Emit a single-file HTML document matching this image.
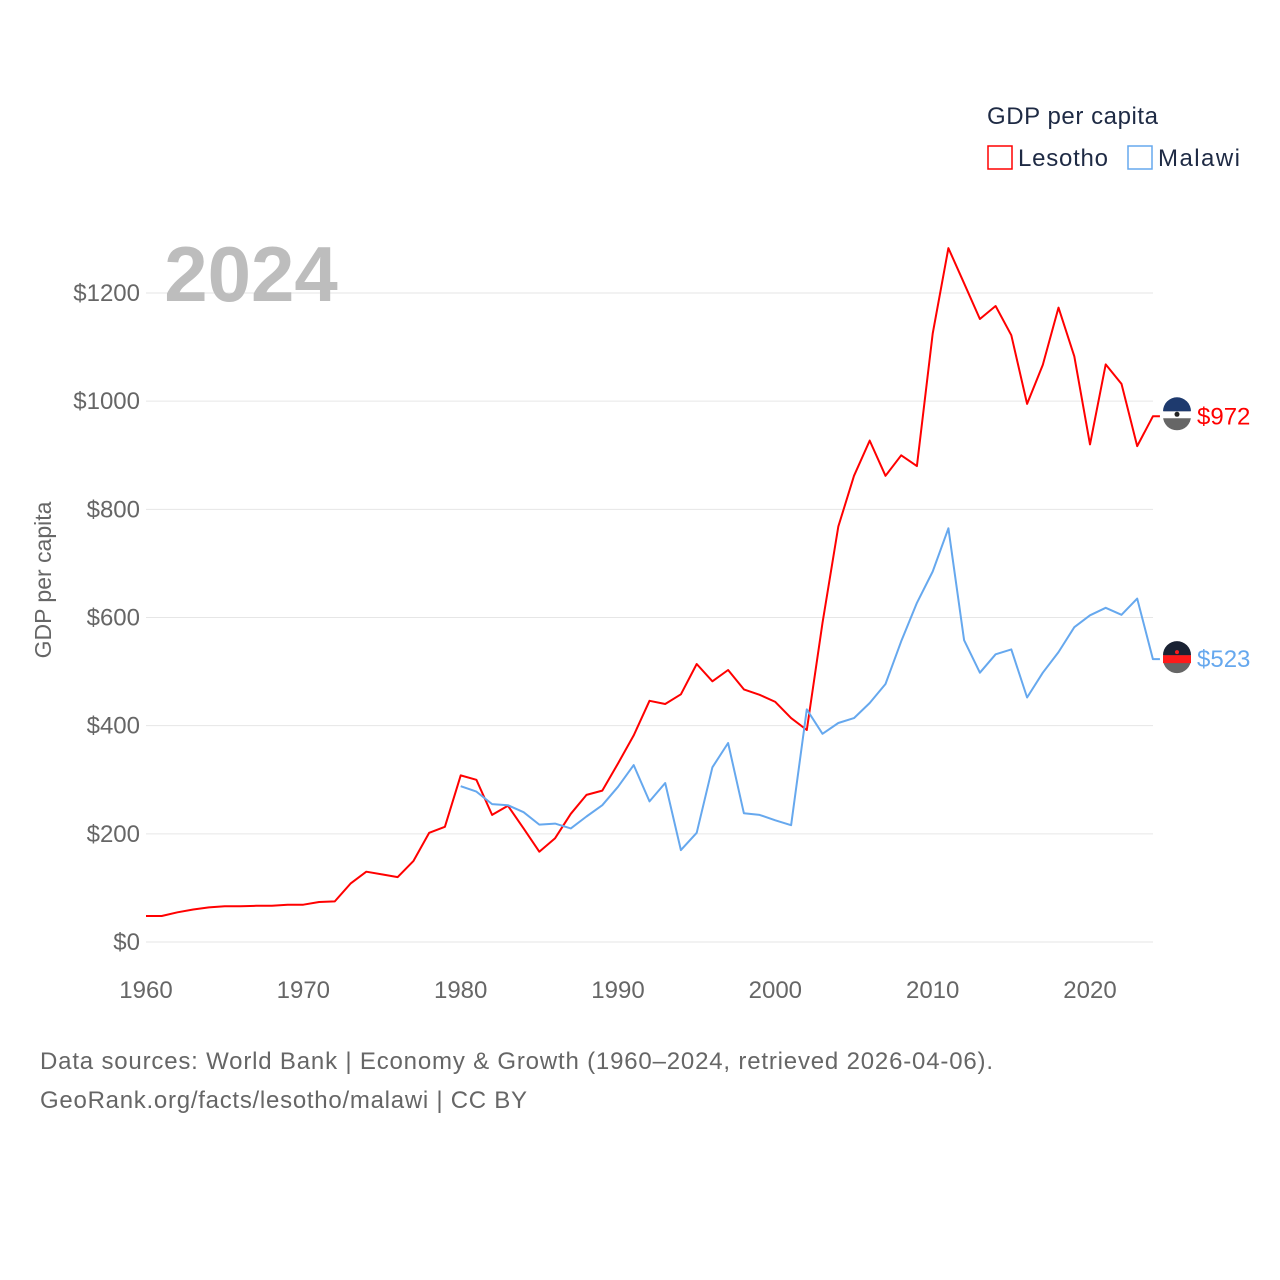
<!DOCTYPE html>
<html><head><meta charset="utf-8"><style>
html,body{margin:0;padding:0;background:#fff;}
svg{display:block;font-family:"Liberation Sans",sans-serif;}
</style></head><body>
<svg id="chart" width="1280" height="1280" viewBox="0 0 1280 1280">
<g id="grid"></g>
<g id="yticks"></g>
<g id="xticks"></g>
<text x="251" y="301" font-size="78" font-weight="bold" fill="#bdbdbd" text-anchor="middle">2024</text>
<text transform="translate(51,580) rotate(-90)" font-size="23" fill="#666" text-anchor="middle">GDP per capita</text>
<g id="series"></g>
<g>
<text x="987" y="124" font-size="24" fill="#1e2a44" textLength="171">GDP per capita</text>
<g><rect x="988" y="146" width="24" height="23" fill="none" stroke="#ff0000" stroke-width="1.5"/><text x="1018" y="166" font-size="24" fill="#1e2a44" textLength="90">Lesotho</text></g>
<g><rect x="1128" y="146" width="24" height="23" fill="none" stroke="#66a8ee" stroke-width="1.5"/><text x="1158" y="166" font-size="24" fill="#1e2a44" textLength="82">Malawi</text></g>
</g>
<text x="40" y="1069" font-size="24" fill="#666" textLength="953">Data sources: World Bank | Economy &amp; Growth (1960–2024, retrieved 2026-04-06).</text>
<text x="40" y="1108" font-size="24" fill="#666" textLength="487">GeoRank.org/facts/lesotho/malawi | CC BY</text>
</svg>
<script>
const years=[];for(let y=1960;y<=2024;y++)years.push(y);
const lesotho=[48,48,55,60,64,66,66,67,67,69,69,74,75,108,130,125,120,150,202,213,308,300,235,252,210,167,192,237,272,280,330,382,446,440,458,514,482,503,467,457,444,414,392,590,768,862,927,862,900,880,1125,1283,1218,1152,1176,1122,995,1067,1173,1083,920,1068,1032,917,972];
const malawiYears=[];for(let y=1980;y<=2024;y++)malawiYears.push(y);
const malawi=[288,278,255,253,240,217,219,210,232,253,287,327,260,294,170,202,323,368,238,235,225,216,430,385,405,414,442,477,556,627,685,765,558,498,532,541,452,498,536,582,604,618,605,635,523];
const yTicks=[0,200,400,600,800,1000,1200];
const xTicks=[1960,1970,1980,1990,2000,2010,2020];
const NS="http://www.w3.org/2000/svg";
const x=v=>146+(v-1960)*(1090-146)/60;
const y=v=>942-v*(942-293)/1200;
function mk(t,a,p){const e=document.createElementNS(NS,t);for(const k in a)e.setAttribute(k,a[k]);p.appendChild(e);return e;}
const grid=document.getElementById('grid'),yt=document.getElementById('yticks'),xt=document.getElementById('xticks'),ser=document.getElementById('series');
yTicks.forEach(v=>{
 const l=mk('line',{x1:146,x2:1153,y1:y(v),y2:y(v),stroke:'#e6e6e6','stroke-width':1},grid);
 
 
 const t=mk('text',{x:140,y:y(v)+8,'font-size':24,fill:'#666','text-anchor':'end'},yt);t.textContent='$'+v;
 
 
});
xTicks.forEach(v=>{
 const t=mk('text',{x:x(v),y:998,'font-size':24,fill:'#666','text-anchor':'middle'},xt);t.textContent=v;
 
 
});
function line(xs,vs,col,name,lab){
 let d=xs.map((yr,i)=>(i?'L':'M')+x(yr).toFixed(1)+','+y(vs[i]).toFixed(1)).join(' ');
 const last=vs[vs.length-1];
 d+=' L'+(x(2024)+7)+','+y(last).toFixed(1);
 const p=mk('path',{d:d,fill:'none',stroke:col,'stroke-width':2,'stroke-linejoin':'round'},ser);
 
 
 const cy=y(last);
 const f=mk('g',{},ser);
 
 
 if(name==='lesotho'){
  mk('circle',{cx:1177,cy:cy,r:14,fill:'#666'},f);
  mk('path',{d:`M1163,${cy-5} h28 v7 h-28z`,fill:'#fff'},f);
  mk('path',{d:`M1163,${cy-5} a14,14 0 0 1 28,0z`,fill:'#1e3a6e'},f);
  mk('circle',{cx:1177,cy:cy-2,r:2.5,fill:'#222'},f);
 }else{
  mk('circle',{cx:1177,cy:cy,r:14,fill:'#666'},f);
  mk('path',{d:`M1163,${cy-4} h28 v8 h-28z`,fill:'#ff1a1a'},f);
  mk('path',{d:`M1163,${cy-4} a14,14 0 0 1 28,0z`,fill:'#1a2233'},f);
  mk('circle',{cx:1177,cy:cy-7,r:2,fill:'#ff1a1a'},f);
 }
 const t=mk('text',{x:1197,y:cy+8,'font-size':24,fill:col},ser);t.textContent='$'+lab;
 
 
}
line(years,lesotho,'#ff0000','lesotho',lesotho[lesotho.length-1]);
line(malawiYears,malawi,'#66a8ee','malawi',malawi[malawi.length-1]);
</script>
</body></html>
